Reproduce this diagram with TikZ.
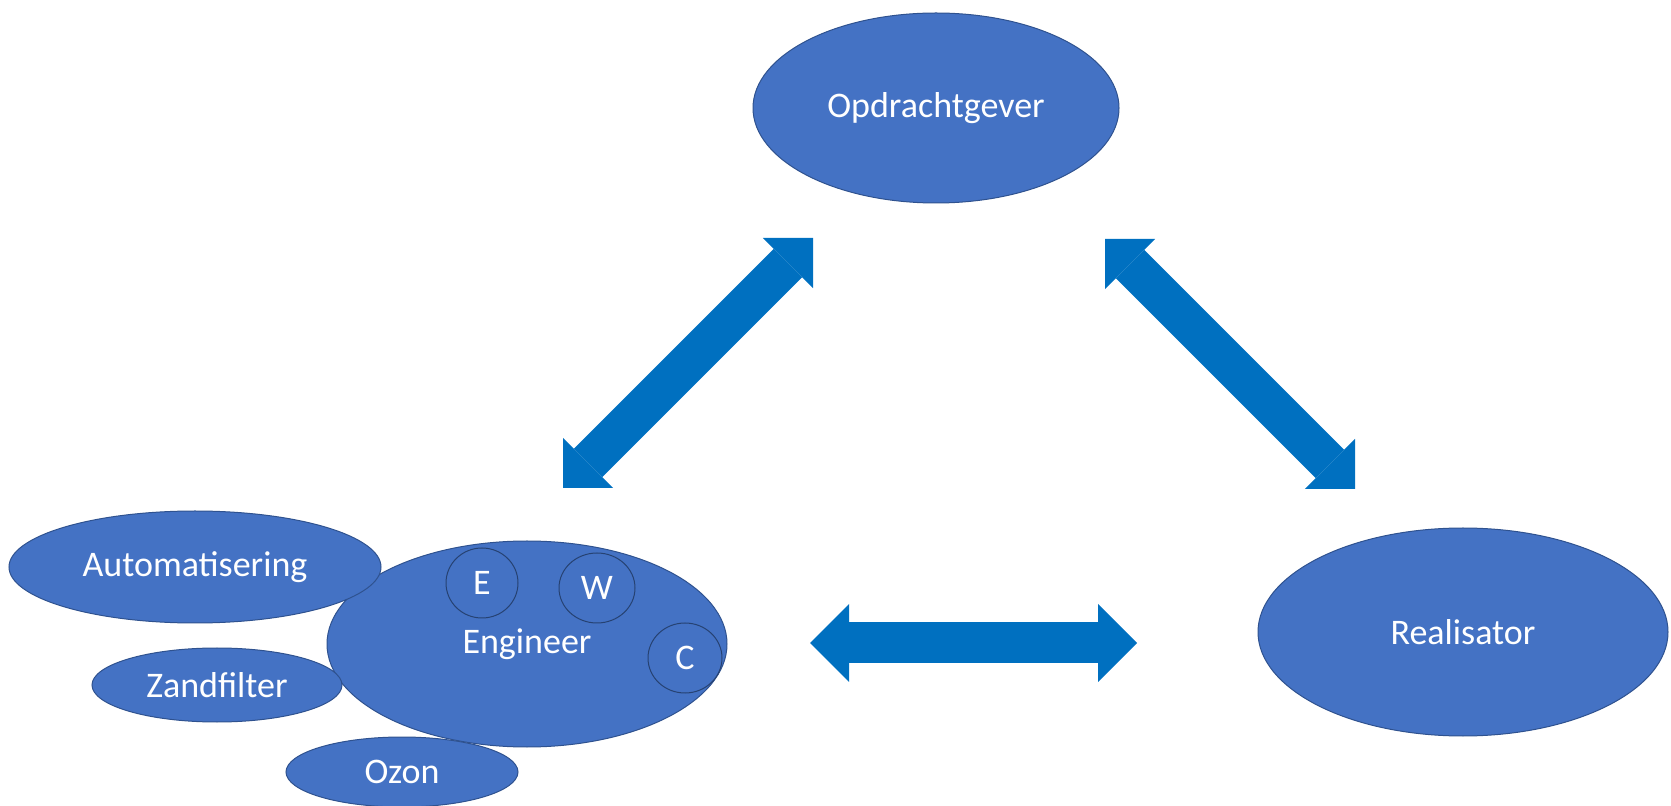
\documentclass[tikz,border=0pt]{standalone}
\usepackage{fontspec}
\setmainfont{Carlito}
\usepackage{tikz}
\usetikzlibrary{shapes.geometric,arrows.meta}
\usepackage{xcolor}
\definecolor{nodeblue}{HTML}{4472C4}
\definecolor{nodeedge}{HTML}{2F528F}
\definecolor{arrowblue}{HTML}{0070C0}
\tikzset{
	blob/.style={ellipse,fill=nodeblue,draw=nodeedge,line width=0.5pt,text=white,inner sep=0pt,font=\fontsize{18}{22}\selectfont},
	sub/.style={blob,draw=nodeedge!80!black},
	blobsize/.style 2 args={minimum width=#1pt,minimum height=#2pt},
	dblarrow/.style n args={3}{draw=arrowblue,line width=#1,{Triangle[length=#2,width=#3,line width=0pt]}-{Triangle[length=#2,width=#3,line width=0pt]}}
}

\begin{document}
\begin{tikzpicture}[x=0.5pt,y=-0.5pt]

	\useasboundingbox (0,0) rectangle (1671,806);

	% parties
	\node[blob,blobsize={183}{95}] (opdr) at (936,108) {Opdrachtgever};
	\node[blob,blobsize={205}{104}] (real) at (1463,632) {Realisator};
	\node[blob,blobsize={200}{103}] (eng) at (527,644) {Engineer};

	% disciplines
	\node[sub,blobsize={36}{35}] (e) at (482,583) {E};
	\node[sub,blobsize={38}{35}] (w) at (597,588) {W};
	\node[sub,blobsize={37}{35}] (c) at (685,658) {C};

	% side topics
	\node[blob,blobsize={186}{56}] (auto) at (195,567) {Automatisering};
	\node[blob,blobsize={125}{37}] (zand) at (217,685) {Zandfilter};
	\node[blob,blobsize={116}{35}] (ozon) at (402,772) {Ozon};

	% arrow ends
	\coordinate (engtip) at (563,488);
	\coordinate (opdrtipl) at (813,238);
	\coordinate (opdrtipr) at (1105,239);
	\coordinate (realtip) at (1355,489);
	\coordinate (englink) at (810,643);
	\coordinate (reallink) at (1137,643);

	\draw[dblarrow={20pt}{17.7pt}{35.4pt}] (engtip) -- (opdrtipl);
	\draw[dblarrow={20pt}{17.7pt}{35.4pt}] (opdrtipr) -- (realtip);
	\draw[dblarrow={20.5pt}{19.5pt}{39pt}] (englink) -- (reallink);

\end{tikzpicture}
\end{document}
